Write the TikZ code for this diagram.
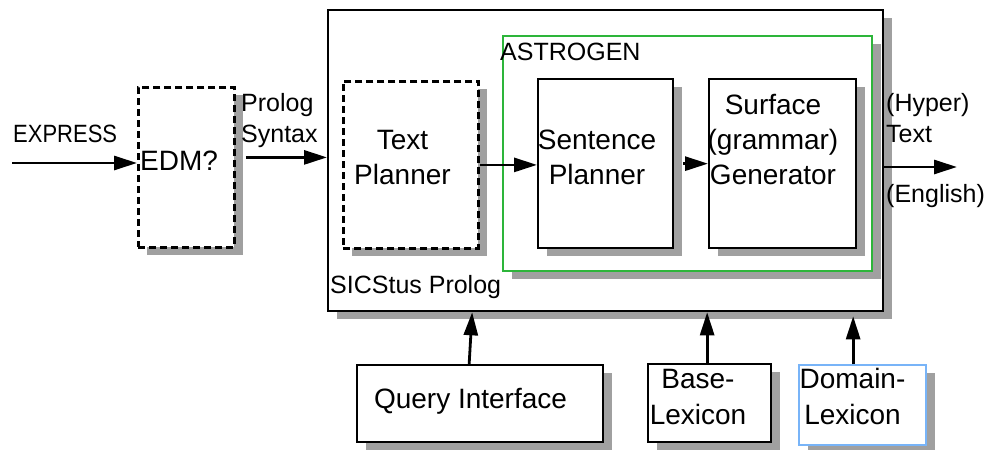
\documentclass[tikz,border=0pt]{standalone}
\usepackage{fontspec}
\setmainfont{Liberation Sans}
\usepackage{graphicx}
\usepackage{xcolor}
\definecolor{astrogreen}{HTML}{2DB53A}
\definecolor{lexblue}{HTML}{78B4F8}
\definecolor{shade}{HTML}{A0A0A0}
\usepackage{tikz}
\usetikzlibrary{positioning,arrows.meta,shadows}

\newcommand{\boxfont}{\fontsize{28}{35}\selectfont}
\newcommand{\lblfont}{\fontsize{25}{31}\selectfont}

\begin{document}
\begin{tikzpicture}[
  x=1pt, y=-1pt,
  >={Triangle[length=23pt,width=14pt]},
  every node/.style={align=center},
  box/.style={draw,line width=2.3pt,fill=white,anchor=north west,inner sep=0pt,
              general shadow={fill=shade,shadow xshift=9pt,shadow yshift=-8pt}},
  planbox/.style={box,line width=2.8pt,dash pattern=on 7pt off 4pt},
  txt/.style={inner sep=0pt,font=\boxfont,anchor=base},
  lbl/.style={inner sep=0pt,font=\lblfont,anchor=base west,align=left},
  arr/.style={->,line width=2.8pt},
]
\useasboundingbox (0,0) rectangle (986,450);

% --- Prolog system frame, ASTROGEN inside it
\node[box,minimum width=555pt,minimum height=301pt] (sics) at (327,9) {};
\node[box,draw=astrogreen,minimum width=369pt,minimum height=235pt] (astrogen) at (502,35) {};

% --- pipeline stages (dashed = optional)
\node[planbox,minimum width=96pt,minimum height=160pt]  (edm) at (137,86) {};
\node[planbox,minimum width=135pt,minimum height=167pt] (tp)  at (342,80) {};
\node[box,minimum width=135pt,minimum height=169pt]     (sp)  at (537,78) {};
\node[box,minimum width=147pt,minimum height=169pt]     (sg)  at (708,78) {};

% --- resources below the frame
\node[box,minimum width=246pt,minimum height=77pt] (qi)   at (356,364) {};
\node[box,minimum width=123pt,minimum height=78pt] (base) at (647,363) {};
\node[box,draw=lexblue,minimum width=127pt,minimum height=80pt] (dom) at (798,364) {};

% --- box texts (bottom lines share one baseline)
\node[txt,anchor=base west] (edmtxt) at (140,170) {EDM?};
\node[txt] (tptxt) at (402.5,184) {Text\\Planner};
\node[txt] (sptxt) at (597,184) {Sentence\\Planner};
\node[txt] (sgtxt) at (773,184) {Surface\\(grammar)\\Generator};
\node[txt] (qitxt) at (470.5,408) {Query Interface};
\node[txt,font=\fontsize{28}{36}\selectfont] (basetxt) at (698,424) {Base-\\Lexicon};
\node[txt,font=\fontsize{28}{36}\selectfont] (domtxt)  at (852.5,424) {Domain-\\Lexicon};

% --- free labels
\node[lbl] (express) at (13,142) {\scalebox{0.88}[1]{EXPRESS}};
\node[lbl] (syntax)  at (241,142) {Prolog\\Syntax};
\node[lbl] (astrolbl) at (500,60) {ASTROGEN};
\node[lbl] (sicslbl)  at (330,293) {SICStus Prolog};
\node[lbl] (hyper)   at (886,142) {(Hyper)\\Text};
\node[lbl] (english) at (886,202) {(English)};

% --- arrows
\coordinate (exin) at (12,163);
\coordinate (txtout) at (957,167);
\draw[arr] (exin) -- (exin -| edm.west);
\draw[arr,shorten <=10pt] ([yshift=10pt]edm.east) -- ([yshift=10pt]edm.east -| sics.west);
\draw[arr] (tp.east) -- (tp.east -| sp.west);
\draw[arr,shorten <=9pt] (sp.east) -- (sp.east -| sg.west);
\draw[arr] (txtout -| sics.east) -- (txtout);
\draw[arr] ([xshift=-11pt]qi.north) -- ([xshift=-8pt]qi.north |- sics.south);
\draw[arr] ([xshift=-2.5pt]base.north) -- ([xshift=-2.5pt]base.north |- sics.south);
\draw[arr,shorten >=4pt] ([xshift=-9.5pt]dom.north) -- ([xshift=-9.5pt]dom.north |- sics.south);

\end{tikzpicture}
\end{document}
